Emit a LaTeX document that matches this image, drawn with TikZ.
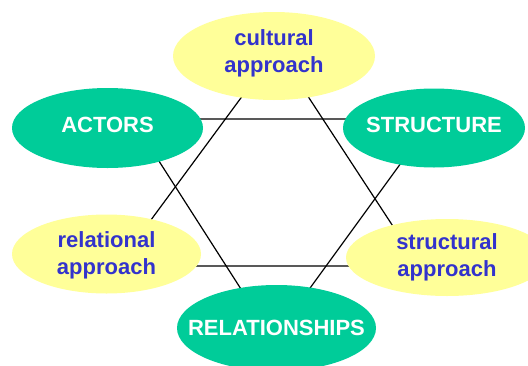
\documentclass[tikz,border=0pt]{standalone}
\usepackage{fontspec}
\setmainfont{Liberation Sans}
\usetikzlibrary{shapes.geometric}
\definecolor{sea}{RGB}{0,204,153}
\definecolor{cream}{RGB}{255,255,153}
\definecolor{ink}{RGB}{51,51,204}

\begin{document}
\begin{tikzpicture}[x=1pt,y=-1pt,line width=1.2pt,
    font=\fontsize{22pt}{27pt}\selectfont\bfseries,
    core/.style={ellipse,fill=sea,text=white,inner sep=0pt,inner xsep=-30pt,text depth=7pt},
    approach/.style={ellipse,fill=cream,text=ink,inner sep=0pt,align=center,text depth=10pt}]
  \clip (0,0) rectangle (528,365);
  \coordinate (C) at (277,49);
  \coordinate (L) at (117,266);
  \coordinate (R) at (419,266);
  \coordinate (A) at (132,119);
  \coordinate (S) at (433,119);
  \coordinate (B) at (273,339);
  \draw (C) -- (L) -- (R) -- cycle;
  \draw (A) -- (S) -- (B) -- cycle;
  \node[approach,minimum width=202pt,minimum height=88pt] (cult) at (274,56) {cultural\\approach};
  \node[core,minimum width=191pt,minimum height=80pt] (act) at (107.5,128) {ACTORS};
  \node[core,minimum width=182pt,minimum height=79pt] (str) at (434,128) {STRUCTURE};
  \node[approach,minimum width=189pt,minimum height=79pt,text depth=2pt] (rel) at (106.5,254) {relational\\approach};
  \node[approach,minimum width=202pt,minimum height=77pt,text depth=4pt] (strc) at (447,257.5) {structural\\approach};
  \node[core,minimum width=199pt,minimum height=86pt,text depth=1pt] (ties) at (276.5,328) {RELATIONSHIPS};
\end{tikzpicture}
\end{document}
